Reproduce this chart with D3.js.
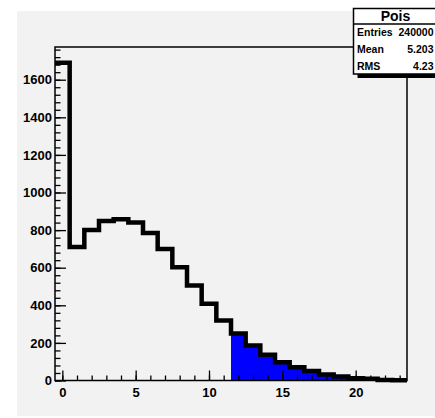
<!DOCTYPE html>
<html>
<head>
<meta charset="utf-8">
<script src="https://cdn.jsdelivr.net/npm/d3@7"></script>
<style>
  html, body { margin: 0; padding: 0; background: #ffffff; }
  svg { display: block; }
  text { font-family: "Liberation Sans", Arial, Helvetica, sans-serif; font-weight: bold; fill: #000; }
</style>
</head>
<body>
<svg id="chart" width="435" height="418"></svg>
<script>
// Histogram "Pois": one bin per integer value, bins centred on 0..23
const binCenters = d3.range(0, 24);
const counts = [1690, 710, 800, 849, 858, 840, 784, 700, 603, 505, 408, 319,
                250, 186, 137, 97, 71, 50, 32, 21, 12, 9, 3, 1];
// bins from this value upward are shaded
const shadeFrom = 12;

const xMajorTicks = [0, 5, 10, 15, 20];
const yMajorTicks = [0, 200, 400, 600, 800, 1000, 1200, 1400, 1600];

const statsTitle = "Pois";
const statsLabels = ["Entries", "Mean", "RMS"];
const statsValues = ["240000", "5.203", "4.23"];

const W = 435, H = 418;
const frame = { left: 55, right: 407, top: 47, bottom: 380.5 };
const yMax = 1774;

const svg = d3.select("#chart");

// canvas background
svg.append("rect").attr("x", 17).attr("y", 11).attr("width", W - 17).attr("height", 405)
  .attr("fill", "#f2f2f2");

const x = d3.scaleLinear().domain([-0.5, 23.5]).range([frame.left, frame.right]);
const y = d3.scaleLinear().domain([0, yMax]).range([frame.bottom, frame.top]);

const bins = binCenters.map((c, i) => ({ lo: c - 0.5, hi: c + 0.5, v: counts[i] }));

// shaded tail
const tail = bins.filter(b => b.lo + 0.5 >= shadeFrom);
const tailPts = tail.flatMap(b => [[b.lo, b.v], [b.hi, b.v]]);
svg.append("path")
  .attr("d", d3.area().x(d => x(d[0])).y0(y(0)).y1(d => y(d[1]))(tailPts))
  .attr("fill", "#0000ff");

// axes: ticks point into the frame
const gY = svg.append("g").attr("transform", `translate(${frame.left},0)`);
gY.call(d3.axisLeft(y).tickValues(yMajorTicks).tickSize(-11).tickPadding(3).tickFormat(d3.format("d")));
const gYm = svg.append("g").attr("transform", `translate(${frame.left},0)`);
gYm.call(d3.axisLeft(y).tickValues(d3.range(0, yMax, 40)).tickSize(-5.5).tickFormat(""));

const gX = svg.append("g").attr("transform", `translate(0,${frame.bottom})`);
gX.call(d3.axisBottom(x).tickValues(xMajorTicks).tickSize(-10).tickPadding(7).tickFormat(d3.format("d")));
const gXm = svg.append("g").attr("transform", `translate(0,${frame.bottom})`);
gXm.call(d3.axisBottom(x).tickValues(d3.range(0, 24)).tickSize(-5).tickFormat(""));

[gY, gYm, gX, gXm].forEach(g => {
  g.select(".domain").remove();
  g.selectAll(".tick line").attr("stroke", "#000").attr("stroke-width", 1.3);
  g.selectAll(".tick text").style("font-size", "13px").attr("fill", "#111");
});

// frame
svg.append("rect")
  .attr("x", frame.left).attr("y", frame.top)
  .attr("width", frame.right - frame.left).attr("height", frame.bottom - frame.top)
  .attr("fill", "none").attr("stroke", "#000").attr("stroke-width", 1.5);

// histogram outline
const pts = bins.flatMap(b => [[b.lo, b.v], [b.hi, b.v]]);
svg.append("path")
  .attr("d", d3.line().x(d => x(d[0])).y(d => y(d[1]))(pts))
  .attr("fill", "none").attr("stroke", "#000").attr("stroke-width", 4.5)
  .attr("stroke-linejoin", "miter");

// statistics box (its right part runs past the canvas edge)
const box = { x: 353.5, y: 8.5, w: 84, h: 65.5, titleH: 15.5 };
svg.append("rect").attr("x", box.x + 4).attr("y", box.y + box.h).attr("width", box.w).attr("height", 4)
  .attr("fill", "#000");
svg.append("rect").attr("x", box.x).attr("y", box.y).attr("width", box.w).attr("height", box.h)
  .attr("fill", "#ffffff").attr("stroke", "#000").attr("stroke-width", 1.5);
svg.append("line").attr("x1", box.x).attr("x2", box.x + box.w)
  .attr("y1", box.y + box.titleH).attr("y2", box.y + box.titleH)
  .attr("stroke", "#000").attr("stroke-width", 1.5);
svg.append("text").attr("x", box.x + box.w / 2).attr("y", box.y + box.titleH / 2)
  .attr("text-anchor", "middle").attr("dominant-baseline", "central")
  .style("font-size", "14px").text(statsTitle);
const rowH = (box.h - box.titleH) / statsLabels.length;
statsLabels.forEach((lab, i) => {
  const cy = box.y + box.titleH + rowH * (i + 0.5);
  svg.append("text").attr("x", box.x + 3.5).attr("y", cy).attr("dominant-baseline", "central")
    .style("font-size", "10.5px").text(lab);
  svg.append("text").attr("x", W - 1.5).attr("y", cy).attr("dominant-baseline", "central")
    .attr("text-anchor", "end").style("font-size", "10.5px").text(statsValues[i]);
});
</script>
</body>
</html>
